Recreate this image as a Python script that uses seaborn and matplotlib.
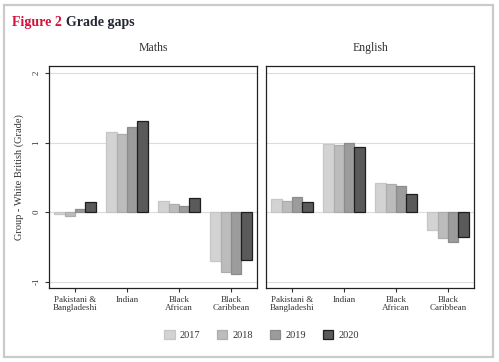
import pandas as pd
import numpy as np
import matplotlib.pyplot as plt
import matplotlib.patches as mpatches
import seaborn as sns

# categories and years
groups = ["Pakistani &\nBangladeshi", "Indian", "Black\nAfrican", "Black\nCaribbean"]
years = ["2017", "2018", "2019", "2020"]

# gap vs White British, one list per year
maths_2017 = [-0.03, 1.15, 0.16, -0.70]
maths_2018 = [-0.05, 1.12, 0.12, -0.86]
maths_2019 = [0.05, 1.22, 0.09, -0.89]
maths_2020 = [0.14, 1.31, 0.20, -0.69]

english_2017 = [0.19, 0.98, 0.42, -0.25]
english_2018 = [0.16, 0.96, 0.40, -0.37]
english_2019 = [0.22, 0.99, 0.37, -0.43]
english_2020 = [0.15, 0.94, 0.26, -0.35]

yticks = [-1, 0, 1, 2]

fills = ["#d3d3d3", "#bcbcbc", "#9c9c9c", "#5a5a5a"]
edges = ["#c6c6c6", "#adadad", "#8c8c8c", "#1e1e1e"]


def long_df(series):
    rows = []
    for yr, vals in zip(years, series):
        for g, v in zip(groups, vals):
            rows.append({"group": g, "year": yr, "gap": v})
    return pd.DataFrame(rows)


maths_df = long_df([maths_2017, maths_2018, maths_2019, maths_2020])
english_df = long_df([english_2017, english_2018, english_2019, english_2020])

sns.set_style("white")
plt.rcParams["font.family"] = ["Liberation Serif", "DejaVu Serif"]

fig = plt.figure(figsize=(4.99, 3.62), dpi=100)
fig.patch.set_facecolor("white")

# light grey frame round the whole figure
fig.patches.append(mpatches.Rectangle((4 / 499, 5 / 362), 489 / 499, 352 / 362,
                                      transform=fig.transFigure, fill=False,
                                      edgecolor="#cacaca", linewidth=1.6))

fig.text(12 / 499, 1 - 26 / 362, "Figure 2", color="#d2123c", fontsize=10,
         fontweight="bold", ha="left", va="baseline")
fig.text(66 / 499, 1 - 26 / 362, "Grade gaps", color="#222733", fontsize=10,
         fontweight="bold", ha="left", va="baseline")

bottom = 74 / 362
height = (288 - 66) / 362
ax1 = fig.add_axes([49 / 499, bottom, 208 / 499, height])
ax2 = fig.add_axes([266 / 499, bottom, 208 / 499, height])

palette = dict(zip(years, fills))

for ax, df, title in [(ax1, maths_df, "Maths"), (ax2, english_df, "English")]:
    sns.barplot(data=df, x="group", y="gap", hue="year", palette=palette,
                saturation=1, width=0.8, ax=ax, legend=False)
    for cont, ec in zip(ax.containers, edges):
        for bar in cont:
            bar.set_edgecolor(ec)
            bar.set_linewidth(0.9)
    ax.set_ylim(-1.09, 2.1)
    ax.set_xlim(-0.5, 3.5)
    ax.set_yticks(yticks)
    ax.yaxis.grid(True, color="#dcdcdc", linewidth=0.8)
    ax.set_axisbelow(True)
    ax.set_xlabel("")
    ax.set_ylabel("")
    ax.set_title(title, fontsize=8.5, color="#333333", pad=11)
    for sp in ax.spines.values():
        sp.set_visible(True)
        sp.set_color("#222222")
        sp.set_linewidth(0.9)
    ax.tick_params(axis="x", bottom=True, length=3, width=0.8, color="#333333",
                   labelsize=6.5, labelcolor="#333333", pad=3)
    plt.setp(ax.get_xticklabels(), linespacing=1.0)

ax1.tick_params(axis="y", left=True, length=3, width=0.8, color="#333333",
                labelsize=6.5, labelcolor="#333333", pad=3)
ax1.set_yticklabels([str(t) for t in yticks], rotation=90, va="center")
ax1.set_ylabel("Group - White British (Grade)", fontsize=7.5, color="#333333",
               labelpad=6)
ax2.tick_params(axis="y", left=False, labelleft=False)

handles = [mpatches.Patch(facecolor=f, edgecolor=e, linewidth=0.9)
           for f, e in zip(fills, edges)]
fig.legend(handles, years, loc="center", bbox_to_anchor=(0.524, 0.075),
           ncol=4, frameon=False, fontsize=7.5, handlelength=1.0,
           handleheight=1.0, handletextpad=0.5, columnspacing=1.6,
           labelcolor="#333333")

fig.savefig("out.png", dpi=100, facecolor="white")
